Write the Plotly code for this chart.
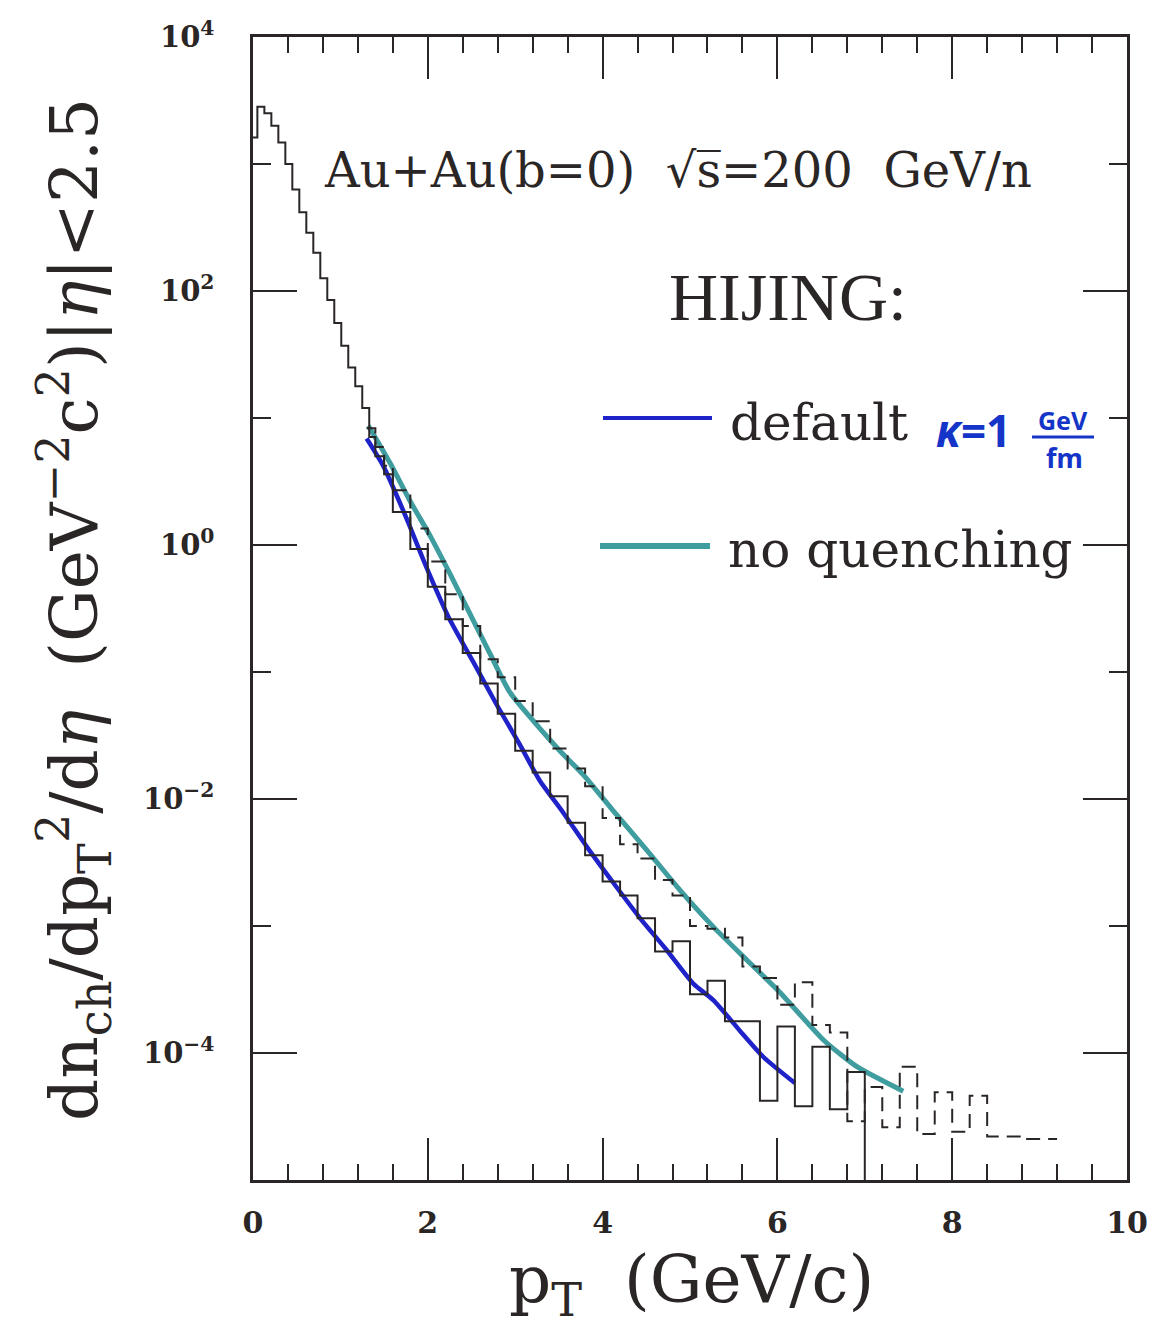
import plotly.graph_objects as go

# ---------------- data ----------------
# HIJING default (with quenching) histogram: bin edges and contents
default_edges = [0.0, 0.05, 0.13, 0.21, 0.29, 0.37, 0.45, 0.53, 0.61, 0.69, 0.77,
                 0.85, 0.93, 1.01, 1.09, 1.17, 1.25, 1.33, 1.4, 1.5, 1.6,
                 1.8, 2.0, 2.2, 2.4, 2.6, 2.8, 3.0, 3.2, 3.4, 3.6, 3.8, 4.0,
                 4.2, 4.4, 4.6, 4.8, 5.0, 5.2, 5.4, 5.6, 5.8, 6.0, 6.2, 6.4,
                 6.6, 6.8, 7.0]
default_vals = [1620, 2820, 2510, 2000, 1480, 1000, 631, 417, 288, 200,
                126, 85, 56, 37, 25, 17.8, 12.0, 7.1, 5.0, 3.6,
                1.82, 0.93, 0.47, 0.26, 0.141, 0.081, 0.047, 0.024, 0.0162, 0.0105,
                0.0065, 0.0036, 0.00224, 0.00174, 0.00115, 0.00063, 0.00076, 0.00029,
                0.00037, 0.000178, 0.000178, 4.2e-5, 1.62e-4, 3.8e-5, 1.12e-4, 3.6e-5,
                7.1e-5]
default_empty = 1e-7   # bins beyond the last filled bin (no entries)

# HIJING no-quenching histogram (dashed)
noq_edges = [1.3, 1.4, 1.5, 1.6, 1.8, 2.0, 2.2, 2.4, 2.6, 2.8, 3.0, 3.2, 3.4,
             3.6, 3.8, 4.0, 4.2, 4.4, 4.6, 4.8, 5.0, 5.2, 5.4, 5.6, 5.8, 6.0,
             6.2, 6.4, 6.6, 6.8, 7.0, 7.2, 7.4, 7.6, 7.8, 8.0, 8.2, 8.4, 8.6,
             8.8, 9.0, 9.2]
noq_vals = [8.3, 5.9, 4.2, 2.7, 1.35, 0.74, 0.41, 0.23, 0.126, 0.091, 0.059,
            0.041, 0.025, 0.0174, 0.0126, 0.0071, 0.0044, 0.0034, 0.0023, 0.00174,
            0.00100, 0.00095, 0.00081, 0.00048, 0.00039, 0.00024, 0.00036,
            0.000166, 0.000145, 2.9e-5, 5.4e-5, 2.6e-5, 7.8e-5, 2.3e-5, 4.9e-5,
            2.4e-5, 4.6e-5, 2.2e-5, 2.2e-5, 2.1e-5, 2.1e-5]

# smooth curves drawn over the histograms
default_curve_pt = [1.30, 1.49, 1.76, 1.98, 2.25, 2.52, 2.79, 3.05, 3.28, 3.55,
                    3.82, 4.12, 4.43, 4.73, 5.04, 5.27, 5.57, 5.84, 6.20]
default_curve_val = [6.9, 4.2, 1.6, 0.68, 0.26, 0.12, 0.055, 0.027, 0.014, 7.8e-3,
                     4.2e-3, 2.2e-3, 1.15e-3, 6.5e-4, 3.5e-4, 2.6e-4, 1.5e-4, 9.3e-5, 5.8e-5]
noq_curve_pt = [1.32, 1.57, 1.80, 2.03, 2.25, 2.48, 2.71, 2.94, 3.21, 3.51,
                3.78, 4.12, 4.50, 4.89, 5.27, 5.65, 6.03, 6.53, 6.91, 7.44]
noq_curve_val = [8.7, 4.4, 2.2, 1.17, 0.60, 0.29, 0.14, 0.069, 0.041, 0.024,
                 0.0155, 8.1e-3, 4.0e-3, 1.9e-3, 9.8e-4, 5.4e-4, 3.0e-4, 1.26e-4, 7.8e-5, 5.0e-5]

x_ticks = [0, 2, 4, 6, 8, 10]
x_ticktext = ["0", "2", "4", "6", "8", "10"]
y_ticks = [1e-4, 1e-2, 1, 1e2, 1e4]
y_ticktext = ["10<sup>\u22124</sup>", "10<sup>\u22122</sup>", "10<sup>0</sup>",
              "10<sup>2</sup>", "10<sup>4</sup>"]
y_minor = [1e-5, 1e-3, 1e-1, 1e1, 1e3]

INK = "#2b2626"
BLUE = "#1f22c8"
PEN = "#1535c8"
TEAL = "#3f9c9f"
SERIF = "DejaVu Serif"

fig = go.Figure()

# curves
fig.add_trace(go.Scatter(x=default_curve_pt, y=default_curve_val, mode="lines",
                         line=dict(color=BLUE, width=4.5, shape="spline", smoothing=0.6),
                         showlegend=False, hoverinfo="skip"))
fig.add_trace(go.Scatter(x=noq_curve_pt, y=noq_curve_val, mode="lines",
                         line=dict(color=TEAL, width=5, shape="spline", smoothing=0.6),
                         showlegend=False, hoverinfo="skip"))

# histograms
fig.add_trace(go.Scatter(x=default_edges + [default_edges[-1]],
                         y=default_vals + [default_vals[-1], default_empty],
                         mode="lines", line=dict(color=INK, width=2, shape="hv"),
                         showlegend=False, hoverinfo="skip"))
fig.add_trace(go.Scatter(x=noq_edges, y=noq_vals + [noq_vals[-1]],
                         mode="lines", line=dict(color=INK, width=2, shape="hv", dash="14px,8px"),
                         showlegend=False, hoverinfo="skip"))

# plot-area geometry (pixels in the 1149x1330 page)
L, R, T, B = 253, 1127, 37, 1180
W, H = R - L, B - T


def px(x):
    return (x - L) / W


def py(y):
    return (B - y) / H


fig.update_layout(
    width=1149, height=1330,
    margin=dict(l=L, r=1149 - R, t=T, b=1330 - B, autoexpand=False),
    paper_bgcolor="white", plot_bgcolor="white",
    font=dict(family=SERIF, color=INK),
    xaxis=dict(range=[0, 10], showgrid=False, zeroline=False, automargin=False,
               showline=True, linecolor=INK, linewidth=2.5, mirror="allticks",
               ticks="inside", ticklen=42, tickwidth=2, tickcolor=INK,
               tickvals=x_ticks, ticktext=x_ticktext,
               tickfont=dict(family=SERIF, size=30, color=INK, weight="bold"),
               ticklabelstandoff=14,
               minor=dict(dtick=0.4, tick0=0, ticks="inside", ticklen=16,
                          tickwidth=2, tickcolor=INK, showgrid=False)),
    yaxis=dict(type="log", range=[-5, 4], showgrid=False, zeroline=False, automargin=False,
               showline=True, linecolor=INK, linewidth=2.5, mirror="allticks",
               ticks="inside", ticklen=44, tickwidth=2, tickcolor=INK,
               tickvals=y_ticks, ticktext=y_ticktext,
               tickfont=dict(family=SERIF, size=29, color=INK, weight="bold"),
               ticklabelstandoff=30,
               minor=dict(tickvals=y_minor, ticks="inside", ticklen=18,
                          tickwidth=2, tickcolor=INK, showgrid=False)),
)


def note(x, y, text, size, family=SERIF, color=INK, xanchor="center", angle=0, weight="normal"):
    return dict(x=px(x), y=py(y), xref="paper", yref="paper", text=text,
                showarrow=False, xanchor=xanchor, yanchor="middle", textangle=angle,
                font=dict(family=family, size=size, color=color, weight=weight))


ann = [
    # axis titles
    note(691, 1284, "p<sub>T</sub>  (GeV/c)", 66),
    note(74, 610, "dn<sub>ch</sub>/dp<sub>T</sub><sup>2</sup>/d<i>\u03b7</i>  "
                  "(GeV<sup>\u22122</sup>c<sup>2</sup>)|<i>\u03b7</i>|&lt;2.5", 66, angle=-90),
    # header text
    note(322, 170, "Au+Au(b=0)  \u221as\u0305=200  GeV/n", 48, xanchor="left"),
    note(667, 297, "HIJING:", 68, family="Liberation Serif", xanchor="left"),
    # legend texts
    note(728, 423, "default", 50, xanchor="left"),
    note(726, 550, "no quenching", 50, xanchor="left"),
    # handwritten note
    note(934, 430, "<i>\u03ba</i>=1", 44, family="Noto Sans", color=PEN, xanchor="left", weight="bold"),
    note(1063, 420, "GeV", 25, family="Noto Sans", color=PEN, weight="bold"),
    note(1064, 457, "fm", 27, family="Noto Sans", color=PEN, weight="bold"),
]
fig.update_layout(annotations=ann)

shapes = [
    dict(type="line", xref="paper", yref="paper", x0=px(1032), x1=px(1094),
         y0=py(437), y1=py(437), line=dict(color=PEN, width=3)),
    dict(type="line", xref="paper", yref="paper", x0=px(603), x1=px(712),
         y0=py(418), y1=py(418), line=dict(color=BLUE, width=4)),
    dict(type="line", xref="paper", yref="paper", x0=px(600), x1=px(710),
         y0=py(546), y1=py(546), line=dict(color=TEAL, width=6)),
]
fig.update_layout(shapes=shapes)

fig.write_html("out.html")
